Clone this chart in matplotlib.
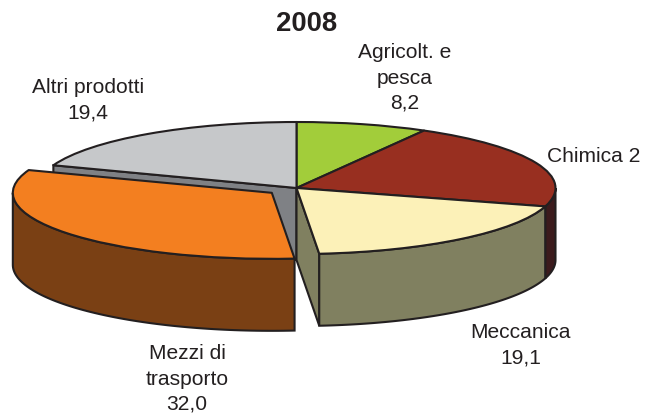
import numpy as np
from matplotlib import pyplot as plt

plt.rcParams['font.family'] = ['Liberation Sans', 'DejaVu Sans']

# dati
titolo = '2008'
categorie = ['Agricolt. e\npesca\n8,2', 'Chimica 2', 'Meccanica\n19,1',
             'Mezzi di\ntrasporto\n32,0', 'Altri prodotti\n19,4']
valori = [8.2, 21.3, 19.1, 32.0, 19.4]
esplosi = [0, 0, 0, 0.12, 0]
colori_top = ['#a2cd3a', '#982f20', '#fcf1b8', '#f37f20', '#c6c8ca']
colori_lato = ['#6f8c28', '#3c1b1d', '#808060', '#7a4014', '#7f8185']

W, H = 651, 415
CX, CY = 296.5, 188  # centro torta in pixel
RX, RY = 259, 66
DEPTH = 72 / RY
BORDO = '#231f20'
LW = 1.5

fig = plt.figure(figsize=(W / 100, H / 100), dpi=100)
ax = fig.add_axes([0, 0, 1, 1])
ax.pie(valori, explode=esplosi, colors=colori_top, startangle=90, counterclock=False,
       radius=1, wedgeprops={'edgecolor': BORDO, 'linewidth': LW, 'zorder': 5,
                             'joinstyle': 'round'})
ax.set_aspect('auto')
ax.set_xlim(-CX / RX, (W - CX) / RX)
ax.set_ylim((CY - H) / RY, CY / RY)

# angoli dal dato, misurati dall'alto in senso orario
bordi = np.cumsum([0] + valori) / sum(valori) * 2 * np.pi
mezzi = (bordi[:-1] + bordi[1:]) / 2


def punto(a):
    return np.sin(a), np.cos(a)


def lato_esterno(i, z):
    # parete curva: solo la parte davanti (tra 90 e 270 gradi)
    a0 = max(bordi[i], np.pi / 2)
    a1 = min(bordi[i + 1], 3 * np.pi / 2)
    if a0 >= a1:
        return
    a = np.linspace(a0, a1, 80)
    dx, dy = punto(mezzi[i])
    x = np.sin(a) + esplosi[i] * dx
    y = np.cos(a) + esplosi[i] * dy
    ax.fill(np.r_[x, x[::-1]], np.r_[y, y[::-1] - DEPTH], facecolor=colori_lato[i],
            edgecolor=BORDO, linewidth=LW, zorder=z)


def lato_taglio(i, a, z):
    # parete piana dal centro al bordo
    x, y = punto(a)
    ax.fill([0, x, x, 0], [0, y, y - DEPTH, -DEPTH], facecolor=colori_lato[i],
            edgecolor=BORDO, linewidth=LW, zorder=z)


lato_taglio(4, bordi[4], 1)
lato_esterno(1, 2)
lato_taglio(2, bordi[3], 2)
lato_esterno(2, 3)
lato_esterno(3, 4)

# testi
pos_etichette = [(405, 78, 'center'), (547, 156, 'left'), (521, 345, 'center'),
                 (187, 379, 'center'), (88, 100, 'center')]
for testo, (x, y, ha) in zip(categorie, pos_etichette):
    fig.text(x / W, 1 - y / H, testo, ha=ha, va='center', multialignment='center',
             fontsize=15.1, color=BORDO, linespacing=1.41)
fig.text(306.5 / W, 1 - 24 / H, titolo, ha='center', va='center', fontsize=19.8,
         fontweight='bold', color=BORDO)

fig.savefig('out.png', dpi=100)
